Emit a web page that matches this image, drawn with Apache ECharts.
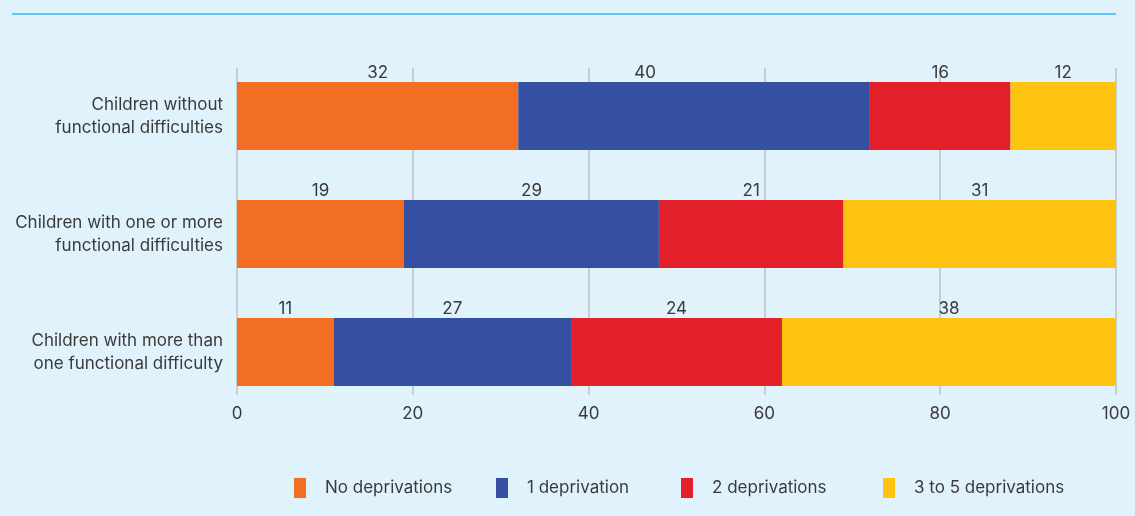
<!DOCTYPE html>
<html>
<head>
<meta charset="utf-8">
<script src="https://cdn.jsdelivr.net/npm/echarts@6/dist/echarts.min.js"></script>
<style>
  html, body { margin: 0; padding: 0; background: #e0f2fb; }
  #chart { width: 1135px; height: 516px; }
</style>
</head>
<body>
<div id="chart"></div>
<script>
var categories = [
    'Children without\nfunctional difficulties',
    'Children with one or more\nfunctional difficulties',
    'Children with more than\none functional difficulty'
];
var seriesNames = ['No deprivations', '1 deprivation', '2 deprivations', '3 to 5 deprivations'];
var noDeprivation = [32, 19, 11];
var oneDeprivation = [40, 29, 27];
var twoDeprivations = [16, 21, 24];
var threeToFive = [12, 31, 38];
var xTicks = [0, 20, 40, 60, 80, 100];

var colors = ['#f26e22', '#3550a3', '#e3202a', '#fec210'];
var legendLeft = [294, 496, 681, 883];
var font = 'Inter';
var textColor = '#3a3a3a';
var fs = 17;

var chart = echarts.init(document.getElementById('chart'));

function makeSeries(name, data, i) {
    return {
        name: name,
        type: 'bar',
        stack: 'total',
        xAxisIndex: 0,
        yAxisIndex: 0,
        barWidth: 68,
        itemStyle: { color: colors[i] },
        label: {
            show: true,
            position: 'top',
            distance: 1,
            color: textColor,
            fontSize: fs,
            fontFamily: font
        },
        data: data.map(function(v, j) {
            // in the original the "40" label sits left of its segment centre
            if (i === 1 && j === 0) {
                return { value: v, label: { offset: [-49, 0] } };
            }
            return v;
        })
    };
}

var option = {
    backgroundColor: '#e0f2fb',
    animation: false,
    textStyle: { fontFamily: font },
    graphic: [{
        type: 'line',
        shape: { x1: 12, y1: 14, x2: 1116, y2: 14 },
        style: { stroke: '#5cc9f5', lineWidth: 2 }
    }],
    // legend items sit at uneven spacing, so one legend per item
    legend: seriesNames.map(function(n, i) {
        return {
            data: [n],
            left: legendLeft[i],
            top: 478,
            padding: 0,
            itemWidth: 12,
            itemHeight: 20,
            icon: 'rect',
            textStyle: { fontSize: fs, color: textColor, fontFamily: font, padding: [0, 0, 0, 14] }
        };
    }),
    grid: [
        { left: 237, right: 19, top: 57, bottom: 105 },
        { left: 237, right: 19, top: 68, bottom: 121 }
    ],
    xAxis: [{
        type: 'value', gridIndex: 0, min: 0, max: 100, interval: 20,
        show: false
    }, {
        type: 'value', gridIndex: 1, min: xTicks[0], max: xTicks[xTicks.length - 1], interval: 20,
        axisLine: { show: false },
        axisTick: { show: false },
        axisLabel: { color: textColor, fontSize: fs, margin: 10, fontFamily: font },
        splitLine: { show: true, lineStyle: { color: '#c8cdd0', width: 2 } }
    }],
    yAxis: [{
        type: 'category', gridIndex: 0, data: categories, inverse: true,
        axisLine: { show: false },
        axisTick: { show: false },
        axisLabel: { color: textColor, fontSize: fs, lineHeight: 23, margin: 14, align: 'right', fontFamily: font }
    }, {
        type: 'category', gridIndex: 1, data: categories, show: false
    }],
    series: [
        makeSeries(seriesNames[0], noDeprivation, 0),
        makeSeries(seriesNames[1], oneDeprivation, 1),
        makeSeries(seriesNames[2], twoDeprivations, 2),
        makeSeries(seriesNames[3], threeToFive, 3)
    ]
};

chart.setOption(option);
</script>
</body>
</html>
